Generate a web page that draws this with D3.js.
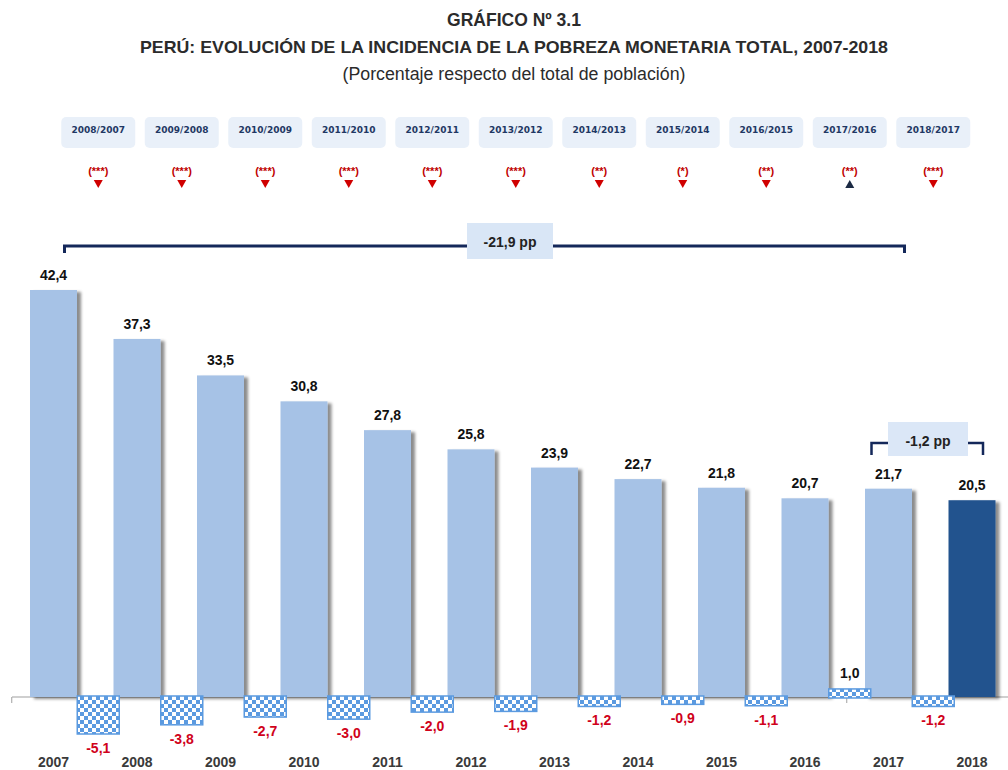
<!DOCTYPE html>
<html lang="es">
<head>
    <meta charset="UTF-8">
    <title>Gráfico 3.1</title>
    <script src="https://cdn.jsdelivr.net/npm/d3@7"></script>
    <style>
        body { margin: 0; background: #fff; }
        text { font-family: "Liberation Sans", Arial, sans-serif; }
        .titulo { font-weight: bold; fill: #2b2b2b; }
        .periodo { font-family: "DejaVu Sans", sans-serif; font-weight: bold; font-size: 9px; fill: #1f3864; }
        .valor { font-weight: bold; font-size: 14px; fill: #111; }
        .cambio { font-weight: bold; font-size: 14px; fill: #d0021b; }
        .anio { font-weight: bold; font-size: 14px; fill: #3a3a3a; }
    </style>
</head>
<body>
<svg id="chart" width="1008" height="770"></svg>
<script>
    // datos
    var anios = ["2007", "2008", "2009", "2010", "2011", "2012", "2013", "2014", "2015", "2016", "2017", "2018"];
    var pobreza = [42.4, 37.3, 33.5, 30.8, 27.8, 25.8, 23.9, 22.7, 21.8, 20.7, 21.7, 20.5];
    var variacion = [-5.1, -3.8, -2.7, -3.0, -2.0, -1.9, -1.2, -0.9, -1.1, 1.0, -1.2];
    var periodos = ["2008/2007", "2009/2008", "2010/2009", "2011/2010", "2012/2011", "2013/2012",
        "2014/2013", "2015/2014", "2016/2015", "2017/2016", "2018/2017"];
    var significancia = ["(***)", "(***)", "(***)", "(***)", "(***)", "(***)", "(**)", "(*)", "(**)", "(**)", "(***)"];
    var direccion = ["baja", "baja", "baja", "baja", "baja", "baja", "baja", "baja", "baja", "sube", "baja"];
    var totalPP = "-21,9 pp";
    var ultimoPP = "-1,2 pp";

    var svg = d3.select("#chart");
    var fmt = function (v) { return d3.format(".1f")(v).replace(".", ",").replace("\u2212", "-"); };

    var defs = svg.append("defs");
    var sombra = defs.append("filter").attr("id", "sombra")
        .attr("x", "-10%").attr("y", "-10%").attr("width", "130%").attr("height", "130%");
    sombra.append("feDropShadow")
        .attr("dx", 4).attr("dy", 2).attr("stdDeviation", 1.8)
        .attr("flood-color", "#000").attr("flood-opacity", 0.45);

    var pat = defs.append("pattern").attr("id", "cuadros")
        .attr("patternUnits", "userSpaceOnUse").attr("width", 8).attr("height", 8);
    pat.append("rect").attr("width", 8).attr("height", 8).attr("fill", "#fff");
    pat.append("rect").attr("width", 4).attr("height", 4).attr("fill", "#5b9ae0");
    pat.append("rect").attr("x", 4).attr("y", 4).attr("width", 4).attr("height", 4).attr("fill", "#5b9ae0");

    // escalas
    var x = d3.scaleBand().domain(anios).range([11.75, 1013.75]).padding(0);
    var bw = x.bandwidth();
    var yNivel = d3.scaleLinear().domain([0, 42.4]).range([697, 290]);
    var yVar = d3.scaleLinear().domain([-5.1, 0]).range([733, 697]);

    // titulos
    svg.append("text").attr("class", "titulo").attr("x", 514).attr("y", 26)
        .attr("text-anchor", "middle").attr("font-size", 17.5).text("GRÁFICO Nº 3.1");
    svg.append("text").attr("class", "titulo").attr("x", 514).attr("y", 53)
        .attr("text-anchor", "middle").attr("font-size", 17)
        .attr("textLength", 748).attr("lengthAdjust", "spacingAndGlyphs")
        .text("PERÚ: EVOLUCIÓN DE LA INCIDENCIA DE LA POBREZA MONETARIA TOTAL, 2007-2018");
    svg.append("text").attr("x", 514).attr("y", 80)
        .attr("text-anchor", "middle").attr("font-size", 17.5).attr("fill", "#2b2b2b")
        .attr("textLength", 343).attr("lengthAdjust", "spacingAndGlyphs")
        .text("(Porcentaje respecto del total de población)");

    // recuadros de periodos
    var per = svg.append("g").selectAll("g").data(periodos).enter().append("g")
        .attr("transform", function (d, i) { return "translate(" + (x(anios[i + 1]) + 3) + ",0)"; });
    per.append("rect").attr("x", -37).attr("y", 117).attr("width", 74).attr("height", 31)
        .attr("rx", 5).attr("fill", "#e9f0f9");
    per.append("text").attr("class", "periodo").attr("y", 133).attr("text-anchor", "middle")
        .text(function (d) { return d; });
    per.append("text").attr("y", 175).attr("text-anchor", "middle")
        .attr("font-size", 11).attr("font-weight", "bold").attr("fill", "#c00000")
        .text(function (d, i) { return significancia[i]; });
    per.append("path")
        .attr("d", function (d, i) {
            return direccion[i] === "sube" ? "M-4.5,188 L4.5,188 L0,180 Z" : "M-4.5,180 L4.5,180 L0,188 Z";
        })
        .attr("fill", function (d, i) { return direccion[i] === "sube" ? "#1b2a44" : "#d00000"; });

    // eje horizontal
    svg.append("line").attr("x1", 12).attr("x2", 1008).attr("y1", 697).attr("y2", 697)
        .attr("stroke", "#a0a0a0").attr("stroke-width", 1.2);
    svg.append("g").selectAll("line").data(anios).enter().append("line")
        .attr("x1", function (d) { return x(d); }).attr("x2", function (d) { return x(d); })
        .attr("y1", 697).attr("y2", 703).attr("stroke", "#a0a0a0");

    // barras de nivel
    svg.append("g").selectAll("rect").data(pobreza).enter().append("rect")
        .attr("x", function (d, i) { return x(anios[i]) + 18.25; })
        .attr("width", 47)
        .attr("y", function (d) { return yNivel(d); })
        .attr("height", function (d) { return yNivel(0) - yNivel(d); })
        .attr("fill", function (d, i) { return i === anios.length - 1 ? "#24538e" : "#a6c2e6"; })
        .attr("filter", "url(#sombra)");

    svg.append("g").selectAll("text").data(pobreza).enter().append("text")
        .attr("class", "valor").attr("text-anchor", "middle")
        .attr("x", function (d, i) { return x(anios[i]) + bw / 2; })
        .attr("y", function (d) { return yNivel(d) - 10; })
        .text(fmt);

    // barras de variacion
    svg.append("g").selectAll("rect").data(variacion).enter().append("rect")
        .attr("x", function (d, i) { return x(anios[i + 1]) - 18; })
        .attr("width", 42)
        .attr("y", function (d) { return Math.min(yVar(d), yVar(0)) - 1; })
        .attr("height", function (d) { return Math.abs(yVar(d) - yVar(0)) + 2; })
        .attr("fill", "url(#cuadros)")
        .attr("stroke", "#5b9ae0").attr("stroke-width", 1.5);

    svg.append("g").selectAll("text").data(variacion).enter().append("text")
        .attr("class", function (d) { return d < 0 ? "cambio" : "valor"; })
        .attr("text-anchor", "middle")
        .attr("x", function (d, i) { return x(anios[i + 1]) + 3; })
        .attr("y", function (d) { return d < 0 ? yVar(d) + 20 : yVar(d) - 12; })
        .text(fmt);

    // etiquetas de anios
    svg.append("g").selectAll("text").data(anios).enter().append("text")
        .attr("class", "anio").attr("text-anchor", "middle")
        .attr("x", function (d) { return x(d) + bw / 2; })
        .attr("y", 767)
        .text(function (d) { return d; });

    // llave total
    var xa = x(anios[0]) + bw / 2 + 11, xb = x(anios[10]) + bw / 2 + 16;
    svg.append("path")
        .attr("d", "M" + xa + ",253 V246 H" + xb + " V253")
        .attr("fill", "none").attr("stroke", "#14285a").attr("stroke-width", 3);
    svg.append("rect").attr("x", 467).attr("y", 223).attr("width", 86).attr("height", 36).attr("fill", "#d9e6f6");
    svg.append("text").attr("x", 510).attr("y", 247).attr("text-anchor", "middle")
        .attr("font-size", 14).attr("font-weight", "bold").attr("fill", "#222").text(totalPP);

    // llave ultimo anio
    var xc = x(anios[10]) + bw / 2 - 17, xd = x(anios[11]) + bw / 2 + 11;
    svg.append("path")
        .attr("d", "M" + xc + ",455 V443 H" + xd + " V455")
        .attr("fill", "none").attr("stroke", "#14285a").attr("stroke-width", 2.5);
    svg.append("rect").attr("x", 888).attr("y", 422).attr("width", 80).attr("height", 34).attr("fill", "#dbe7f7");
    svg.append("text").attr("x", 928).attr("y", 446).attr("text-anchor", "middle")
        .attr("font-size", 14).attr("font-weight", "bold").attr("fill", "#222").text(ultimoPP);
</script>
</body>
</html>
